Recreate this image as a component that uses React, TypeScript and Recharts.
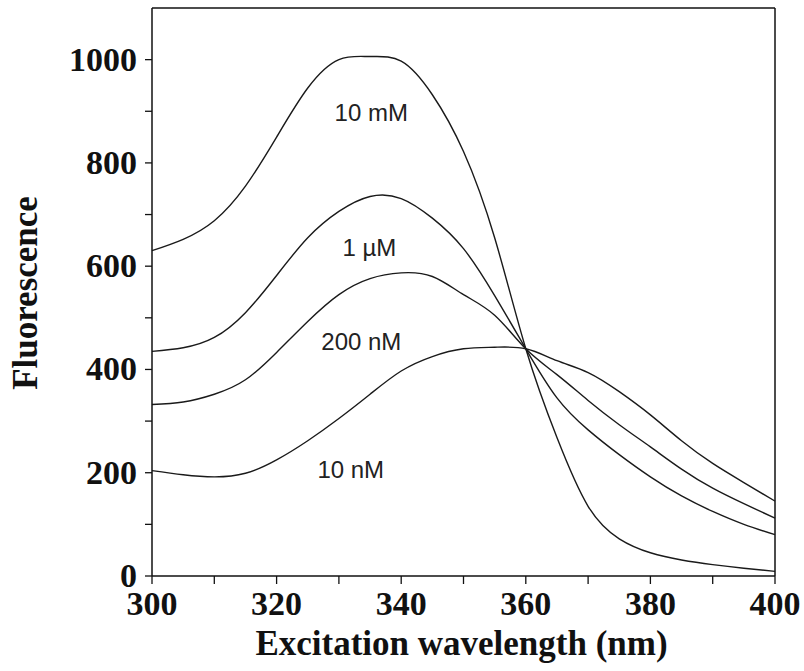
import { LineChart, Line, XAxis, YAxis, ReferenceDot, ReferenceLine } from 'recharts';

const wavelengths = [300, 305, 310, 315, 320, 325, 330, 335, 340, 345, 350, 355, 360, 365, 370, 375, 380, 385, 390, 395, 400];
const tenMM = [630, 652, 688, 755, 850, 945, 1000, 1006, 997, 932, 822, 655, 440, 268, 135, 72, 45, 31, 22, 15, 9];
const oneUM = [435, 442, 462, 510, 582, 655, 706, 735, 731, 693, 634, 543, 440, 345, 283, 235, 192, 155, 125, 100, 80];
const twoHundredNM = [332, 337, 352, 380, 433, 493, 545, 576, 587, 580, 545, 505, 440, 390, 340, 293, 250, 207, 170, 140, 112];
const tenNM = [204, 196, 192, 199, 225, 262, 305, 352, 397, 425, 440, 443, 440, 417, 394, 357, 312, 262, 218, 181, 145];

const xTicks = [300, 310, 320, 330, 340, 350, 360, 370, 380, 390, 400];
const yTicks = [0, 100, 200, 300, 400, 500, 600, 700, 800, 900, 1000];

const curveLabels = ['10 mM', '1 µM', '200 nM', '10 nM'];
const labelX = [335.2, 334.9, 333.6, 331.9];
const labelY = [898, 636, 454, 206];

const data = wavelengths.map((w, i) => ({
  w,
  tenMM: tenMM[i],
  oneUM: oneUM[i],
  twoHundredNM: twoHundredNM[i],
  tenNM: tenNM[i],
}));

const INK = '#111';
const SERIF = '"Liberation Serif", "Times New Roman", serif';
const SANS = '"Liberation Sans", Arial, sans-serif';

const XTick = (props: any) => {
  const { x, y, payload } = props;
  if (payload.value % 20 !== 0) return <g />;
  return (
    <text x={x} y={y + 29} textAnchor="middle" fontFamily={SERIF} fontWeight="bold" fontSize={34} fill={INK}>
      {payload.value}
    </text>
  );
};

const YTick = (props: any) => {
  const { x, y, payload } = props;
  if (payload.value % 200 !== 0) return <g />;
  return (
    <text x={x} y={y + 11} textAnchor="end" fontFamily={SERIF} fontWeight="bold" fontSize={34} fill={INK}>
      {payload.value}
    </text>
  );
};

export default function App() {
  const series = ['tenMM', 'oneUM', 'twoHundredNM', 'tenNM'];
  return (
    <div style={{ position: 'absolute', left: 0, top: 0, background: 'white' }}>
      <LineChart width={804} height={671} data={data} margin={{ top: 8, right: 29, bottom: 0, left: 0 }}>
        <XAxis
          dataKey="w"
          type="number"
          domain={[300, 400]}
          ticks={xTicks}
          tick={<XTick />}
          tickSize={8}
          tickMargin={2}
          height={95}
          axisLine={{ stroke: INK, strokeWidth: 1.5 }}
          tickLine={{ stroke: INK, strokeWidth: 1.3 }}
          label={{
            content: (p: any) => {
              const vb = p.viewBox;
              return (
                <text x={vb.x + vb.width / 2 - 2} y={vb.y + 79} textAnchor="middle" fontFamily={SERIF} fontWeight="bold" fontSize={35} fill={INK}>
                  Excitation wavelength (nm)
                </text>
              );
            },
          }}
        />
        <YAxis
          type="number"
          domain={[0, 1100]}
          ticks={yTicks}
          tick={<YTick />}
          tickSize={7}
          tickMargin={8}
          width={152}
          axisLine={{ stroke: INK, strokeWidth: 1.5 }}
          tickLine={{ stroke: INK, strokeWidth: 1.3 }}
          label={{
            content: (p: any) => {
              const vb = p.viewBox;
              const cy = vb.y + vb.height / 2 + 1;
              return (
                <text x={37} y={cy} transform={`rotate(-90, 37, ${cy})`} textAnchor="middle" fontFamily={SERIF} fontWeight="bold" fontSize={35} fill={INK}>
                  Fluorescence
                </text>
              );
            },
          }}
        />
        {/* frame: top and right edges */}
        <ReferenceLine y={1100} stroke={INK} strokeWidth={1.5} />
        <ReferenceLine x={400} stroke={INK} strokeWidth={1.5} />
        {series.map((key) => (
          <Line key={key} dataKey={key} type="natural" stroke="#1a1a1a" strokeWidth={1.4} dot={false} isAnimationActive={false} />
        ))}
        {curveLabels.map((t, i) => (
          <ReferenceDot
            key={t}
            x={labelX[i]}
            y={labelY[i]}
            r={0}
            fill="none"
            stroke="none"
            label={{ value: t, position: 'center', fontFamily: SANS, fontSize: 24, fill: '#222' }}
          />
        ))}
      </LineChart>
    </div>
  );
}
